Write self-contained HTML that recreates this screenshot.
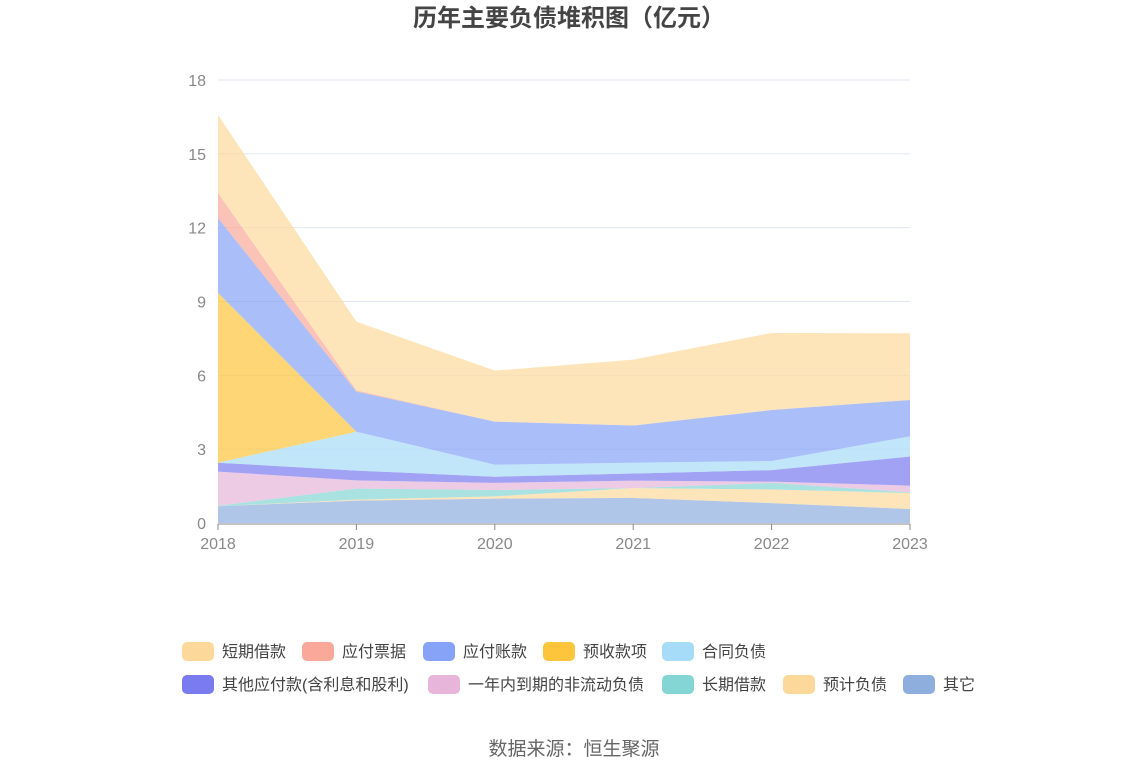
<!DOCTYPE html>
<html><head><meta charset="utf-8"><style>
body{margin:0;background:#fff;font-family:"Liberation Sans","Noto Sans CJK SC",sans-serif;}
svg text{font-family:"Liberation Sans","Noto Sans CJK SC",sans-serif;}
</style></head><body>
<svg id="chart" width="1148" height="776">
<text x="569" y="26" text-anchor="middle" font-size="24" font-weight="bold" fill="#444">历年主要负债堆积图（亿元）</text>
<g id="grid"></g><g id="areas"></g><g id="axes"></g><g id="legend"></g>
<text x="574" y="755" text-anchor="middle" font-size="19" fill="#666">数据来源：恒生聚源</text>
</svg>
<script>
const years=["2018","2019","2020","2021","2022","2023"];
const yTicks=[0,3,6,9,12,15,18];
const seriesNames=["其它","预计负债","长期借款","一年内到期的非流动负债","其他应付款(含利息和股利)","合同负债","预收款项","应付账款","应付票据","短期借款"];
const sOther=[0.68,0.91,0.99,1.02,0.81,0.57];
const sProvision=[0,0.04,0.09,0.40,0.55,0.65];
const sLongLoan=[0.02,0.45,0.26,0,0.27,0.03];
const sCurrentNonCur=[1.39,0.33,0.29,0.30,0.05,0.27];
const sOtherPay=[0.36,0.40,0.25,0.29,0.47,1.18];
const sContract=[0,1.58,0.49,0.44,0.37,0.82];
const sAdvance=[6.9,0,0,0,0,0];
const sAP=[3.04,1.63,1.75,1.51,2.07,1.48];
const sNotes=[1.02,0.05,0,0,0,0];
const sShort=[3.17,2.79,2.07,2.68,3.13,2.71];
const colors=["#8eaede","#fdd89b","#84d6d4","#e6b5d9","#7b7bf0","#a6dcf7","#fdc53c","#86a3f7","#f9a89a","#fdd89b"];
const series=[sOther,sProvision,sLongLoan,sCurrentNonCur,sOtherPay,sContract,sAdvance,sAP,sNotes,sShort];
const NS="http://www.w3.org/2000/svg";
const X0=218,X1=910,Y0=523,Y1=80;
const xs=i=>X0+(X1-X0)*i/(years.length-1);
const ys=v=>Y0-(Y0-Y1)*v/18;
function mk(t,a,p){const e=document.createElementNS(NS,t);for(const k in a)e.setAttribute(k,a[k]);p.appendChild(e);return e;}
const grid=document.getElementById('grid'),axes=document.getElementById('axes'),areas=document.getElementById('areas'),legend=document.getElementById('legend');
yTicks.forEach(t=>{
 if(t>0){const l=mk('line',{x1:X0,x2:X1,y1:ys(t),y2:ys(t),stroke:'#e0e6f1','stroke-width':1},grid);
 
 }
 const tx=mk('text',{x:206,y:ys(t)+6,'text-anchor':'end','font-size':16,fill:'#888'},axes);tx.textContent=t;
 
 
});
const ax=mk('line',{x1:X0,x2:X1,y1:Y0+1,y2:Y0+1,stroke:'#888','stroke-width':1},axes);


years.forEach((y,i)=>{
 const tk=mk('line',{x1:xs(i),x2:xs(i),y1:Y0+1,y2:Y0+7,stroke:'#888'},axes);
 
 
 const tx=mk('text',{x:xs(i),y:549,'text-anchor':'middle','font-size':16,fill:'#888'},axes);tx.textContent=y;
 
 
});
let base=years.map(()=>0);
series.forEach((s,k)=>{
 const top=base.map((b,i)=>b+s[i]);
 let d='M'+top.map((v,i)=>xs(i)+','+ys(v)).join('L');
 for(let i=years.length-1;i>=0;i--)d+='L'+xs(i)+','+ys(base[i]);
 d+='Z';
 const p=mk('path',{d:d,fill:colors[k],'fill-opacity':0.7,stroke:'none'},areas);
 
 
 base=top;
});
const legendOrder=[9,8,7,6,5,4,3,2,1,0];
const legPos=[[182,651],[302,651],[423,651],[543,651],[662,651],[182,684],[428,684],[662,684],[783,684],[903,684]];
legendOrder.forEach((k,j)=>{
 const [lx,ly]=legPos[j];
 const g=mk('g',{},legend);
 
 
 mk('rect',{x:lx,y:ly-9,width:32,height:19,rx:5,fill:colors[k]},g);
 const t=mk('text',{x:lx+40,y:ly+6,'font-size':16,fill:'#444'},g);t.textContent=seriesNames[k];
});
</script>
</body></html>
